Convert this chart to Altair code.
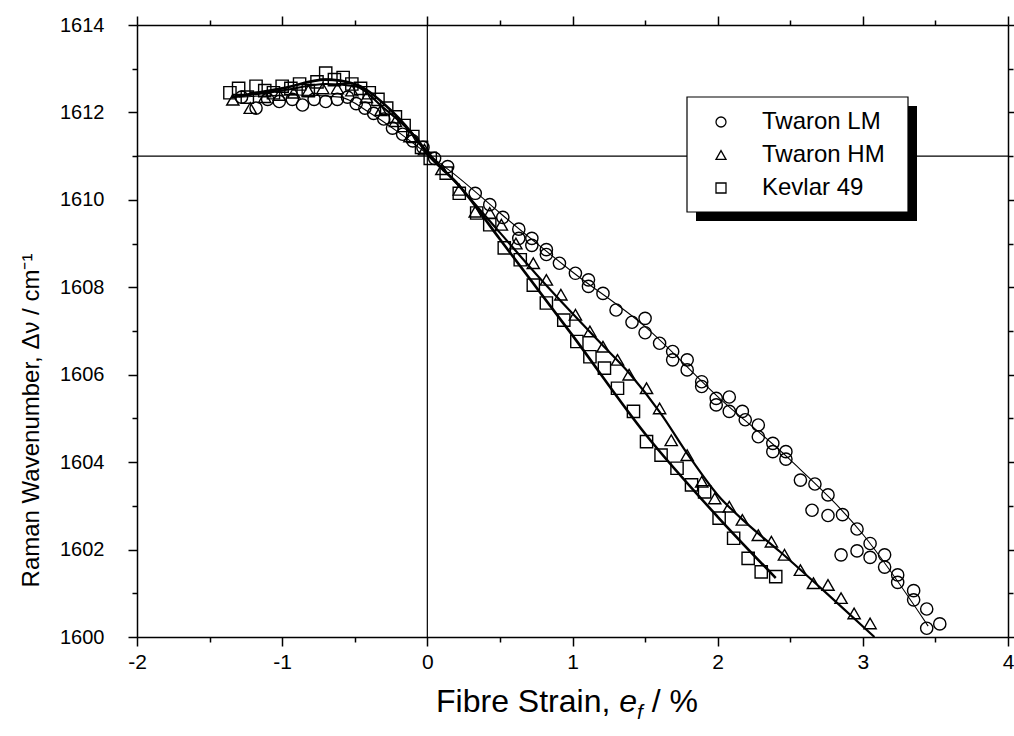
import altair as alt
import pandas as pd

# ---------------- data ----------------
lm_x = [-1.28, -1.18, -1.1, -1.02, -0.93, -0.86, -0.78, -0.7, -0.62, -0.55, -0.49, -0.43, -0.37, -0.3,
        -0.24, -0.17, -0.1, -0.03, 0.05, 0.14,
        0.33, 0.43, 0.52, 0.63, 0.63, 0.72, 0.72, 0.82, 0.82, 0.91, 1.02, 1.11, 1.11, 1.21, 1.30, 1.41,
        1.50, 1.50, 1.60, 1.69, 1.69, 1.79, 1.79, 1.89, 1.89, 1.99, 1.99, 2.08, 2.08, 2.17, 2.19, 2.28,
        2.28, 2.38, 2.38, 2.47, 2.47, 2.57, 2.67, 2.76, 2.65, 2.76, 2.86, 2.96, 3.05, 2.85, 2.96, 3.05,
        3.15, 3.15, 3.24, 3.24, 3.35, 3.35, 3.44, 3.44, 3.53]
lm_y = [1612.35, 1612.1, 1612.3, 1612.25, 1612.3, 1612.17, 1612.3, 1612.25, 1612.3, 1612.35, 1612.2,
        1612.1, 1611.98, 1611.85, 1611.64, 1611.5, 1611.35, 1611.2, 1610.95, 1610.76,
        1610.15, 1609.89, 1609.6, 1609.33, 1609.12, 1609.12, 1608.96, 1608.86, 1608.75, 1608.55, 1608.32,
        1608.17, 1608.02, 1607.86, 1607.48, 1607.2, 1607.29, 1606.96, 1606.72, 1606.53, 1606.34, 1606.34,
        1606.11, 1605.84, 1605.73, 1605.46, 1605.31, 1605.49, 1605.16, 1605.16, 1604.97, 1604.85, 1604.58,
        1604.43, 1604.24, 1604.24, 1604.07, 1603.59, 1603.5, 1603.25, 1602.9, 1602.78, 1602.8, 1602.47,
        1602.14, 1601.88, 1601.97, 1601.82, 1601.88, 1601.6, 1601.42, 1601.25, 1601.06, 1600.85, 1600.64,
        1600.2, 1600.3]

hm_x = [-1.34, -1.22, -1.12, -1.02, -0.92, -0.82, -0.72, -0.62, -0.52, -0.42, -0.32, -0.22, -0.12,
        -0.02, 0.1, 0.22, 0.33, 0.43, 0.51, 0.61, 0.73, 0.82, 0.92, 1.02, 1.12, 1.21, 1.31, 1.39, 1.51,
        1.60, 1.68, 1.79, 1.89, 1.98, 2.08, 2.17, 2.28, 2.37, 2.46, 2.57, 2.66, 2.76, 2.85, 2.94, 3.05]
hm_y = [1612.29, 1612.1, 1612.35, 1612.4, 1612.45, 1612.5, 1612.55, 1612.55, 1612.5, 1612.35, 1612.05,
        1611.8, 1611.45, 1611.15, 1610.7, 1610.23, 1609.73, 1609.7, 1609.43, 1609.0, 1608.55, 1608.17,
        1607.83, 1607.37, 1606.99, 1606.64, 1606.34, 1606.0, 1605.69, 1605.23, 1604.5, 1604.16, 1603.55,
        1603.17, 1602.98, 1602.68, 1602.33, 1602.18, 1601.88, 1601.53, 1601.23, 1601.19, 1600.89,
        1600.54, 1600.31]

kv_x = [-1.36, -1.3, -1.24, -1.18, -1.12, -1.06, -1.0, -0.94, -0.88, -0.82, -0.76, -0.7, -0.64, -0.58,
        -0.52, -0.46, -0.4, -0.34, -0.28, -0.22, -0.16, -0.1, -0.04, 0.02, 0.13, 0.22, 0.34, 0.43, 0.53,
        0.64, 0.73, 0.82, 0.94, 1.03, 1.12, 1.22, 1.31, 1.42, 1.51, 1.61, 1.72, 1.82, 1.91, 2.01, 2.11,
        2.21, 2.30, 2.40]
kv_y = [1612.45, 1612.55, 1612.35, 1612.6, 1612.5, 1612.45, 1612.6, 1612.55, 1612.65, 1612.5, 1612.7,
        1612.9, 1612.75, 1612.8, 1612.65, 1612.55, 1612.45, 1612.3, 1612.1, 1611.9, 1611.7, 1611.45,
        1611.2, 1610.95, 1610.61, 1610.15, 1609.7, 1609.43, 1608.9, 1608.63, 1608.05, 1607.64, 1607.25,
        1606.76, 1606.41, 1606.15, 1605.69, 1605.16, 1604.47, 1604.16, 1603.86, 1603.48, 1603.32,
        1602.72, 1602.26, 1601.8, 1601.49, 1601.38]

# fitted curves
lm_fit_x = [-1.3, -0.9, -0.6, -0.4, -0.2, 0.0, 0.2, 0.5, 1.0, 1.5, 2.0, 2.5, 3.0, 3.45]
lm_fit_y = [1612.35, 1612.4, 1612.35, 1612.0, 1611.55, 1611.05, 1610.55, 1609.7, 1608.35, 1607.1,
            1605.5, 1604.05, 1602.35, 1600.25]
hm_fit_x = [-1.35, -1.0, -0.7, -0.5, -0.3, -0.1, 0.0, 0.25, 0.5, 0.75, 1.0, 1.2, 1.4, 1.6, 1.8, 2.0,
            2.2, 2.43, 2.8, 3.08]
hm_fit_y = [1612.35, 1612.5, 1612.65, 1612.6, 1612.1, 1611.5, 1611.1, 1610.2, 1609.25, 1608.3,
            1607.4, 1606.7, 1606.0, 1605.15, 1604.15, 1603.25, 1602.6, 1601.95, 1600.85, 1600.0]
kv_fit_x = [-1.35, -1.0, -0.7, -0.5, -0.3, -0.1, 0.0, 0.2, 0.5, 1.0, 1.5, 2.0, 2.4]
kv_fit_y = [1612.35, 1612.55, 1612.75, 1612.65, 1612.2, 1611.5, 1611.05, 1610.4, 1609.1, 1606.9,
            1604.65, 1602.75, 1601.35]

series = ["Twaron LM", "Twaron HM", "Kevlar 49"]
shapes = ["circle", "triangle-up", "square"]
line_widths = [1.1, 2.2, 2.6]

x_ticks = [-2 + 0.5 * i for i in range(13)]
y_ticks = [1600 + i for i in range(15)]
x_title_parts = ["Fibre Strain, ", "e", "f", "/ %"]
y_title = "Raman Wavenumber, \u0394\u03bd / cm\u207b\u00b9"

# ---------------- tables ----------------
pts = pd.concat([
    pd.DataFrame({"series": series[0], "x": lm_x, "y": lm_y}),
    pd.DataFrame({"series": series[1], "x": hm_x, "y": hm_y}),
    pd.DataFrame({"series": series[2], "x": kv_x, "y": kv_y}),
], ignore_index=True)
fit_tables = [
    pd.DataFrame({"x": lm_fit_x, "y": lm_fit_y}),
    pd.DataFrame({"x": hm_fit_x, "y": hm_fit_y}),
    pd.DataFrame({"x": kv_fit_x, "y": kv_fit_y}),
]

W, H = 871, 612
FONT = "Liberation Sans"
xs = alt.Scale(domain=[-2, 4], nice=False, zero=False)
ys = alt.Scale(domain=[1600, 1614], nice=False, zero=False)

xmaj = {"condition": {"test": "datum.value % 1 === 0", "value": 9}, "value": 5}
ymaj = {"condition": {"test": "datum.value % 2 === 0", "value": 9}, "value": 5}

x_bottom = alt.Axis(values=x_ticks, orient="bottom", title=None, grid=False,
                    labelExpr="datum.value % 1 === 0 ? (datum.value < 0 ? '-' + abs(datum.value) : '' + datum.value) : ''",
                    tickSize=xmaj, tickWidth=1.5, tickColor="black", domainColor="black",
                    domainWidth=1.5, labelFontSize=21, labelFont=FONT, labelColor="black",
                    labelPadding=5, labelFlush=False)
y_left = alt.Axis(values=y_ticks, orient="left", title=y_title, grid=False,
                  labelExpr="datum.value % 2 === 0 ? datum.label : ''",
                  tickSize=ymaj, tickWidth=1.5, tickColor="black", domainColor="black",
                  domainWidth=1.5, labelFontSize=20, labelFont=FONT, labelColor="black",
                  labelPadding=24, titleFontSize=24, titleFont=FONT, titleFontWeight="normal",
                  titleColor="black", titleX=-94, titleY=395, titleAngle=270,
                  titleBaseline="bottom", titleAlign="center", format="d")
x_top = alt.Axis(values=x_ticks, orient="top", title=None, grid=False, labels=False,
                 tickSize=xmaj, tickWidth=1.5, tickColor="black", domainColor="black",
                 domainWidth=1.5)
y_right = alt.Axis(values=y_ticks, orient="right", title=None, grid=False, labels=False,
                   tickSize=ymaj, tickWidth=1.5, tickColor="black", domainColor="black",
                   domainWidth=1.5)

hline = alt.Chart(pd.DataFrame({"y": [1611]})).mark_rule(color="black", strokeWidth=1.2).encode(
    y=alt.Y("y:Q", scale=ys, axis=None))
vline = alt.Chart(pd.DataFrame({"x": [0]})).mark_rule(color="black", strokeWidth=1.2).encode(
    x=alt.X("x:Q", scale=xs, axis=None))

line_layers = [
    alt.Chart(tbl).mark_line(color="black", interpolate="monotone", strokeWidth=lw).encode(
        x=alt.X("x:Q", scale=xs, axis=None),
        y=alt.Y("y:Q", scale=ys, axis=None))
    for tbl, lw in zip(fit_tables, line_widths)
]

# legend box geometry (plot-area pixels): drop shadow + white framed box
LX, LY, LW, LH = 550, 72, 221, 115
one = pd.DataFrame({"a": [0]})
shadow = alt.Chart(one).mark_rect(color="black").encode(
    x=alt.value(LX + 9), x2=alt.value(LX + LW + 9),
    y=alt.value(LY + 9), y2=alt.value(LY + LH + 9))
box = alt.Chart(one).mark_rect(fill="white", stroke="black", strokeWidth=1.2).encode(
    x=alt.value(LX), x2=alt.value(LX + LW),
    y=alt.value(LY), y2=alt.value(LY + LH))

points = alt.Chart(pts).mark_point(filled=False, color="black", strokeWidth=1.4, size=150,
                                   opacity=1).encode(
    x=alt.X("x:Q", scale=xs, axis=x_bottom),
    y=alt.Y("y:Q", scale=ys, axis=y_left),
    shape=alt.Shape("series:N", scale=alt.Scale(domain=series, range=shapes),
                    legend=alt.Legend(title=None, orient="none", legendX=LX, legendY=LY,
                                      padding=13,
                                      labelFontSize=24, labelFont=FONT, labelColor="black",
                                      symbolSize=100, symbolStrokeWidth=1.3,
                                      symbolStrokeColor="black", symbolFillColor="white",
                                      symbolOffset=9, labelOffset=29, rowPadding=9,
                                      zindex=1)),
)

frame = alt.Chart(pts).mark_point(opacity=0).encode(
    x=alt.X("x:Q", scale=xs, axis=x_top),
    y=alt.Y("y:Q", scale=ys, axis=y_right),
)

# composite x-axis title with italic e and subscript f
FS = 32
FSS = 21
w0 = 5.724 * FS
w1 = 0.556 * FS
w2 = 0.278 * FSS + 0.278 * FS
total = w0 + w1 + w2 + 1.445 * FS
cx = 430
x0 = cx - total / 2
by = 687
t0 = alt.Chart(one).mark_text(text=x_title_parts[0], align="left", baseline="alphabetic",
                              fontSize=FS, font=FONT, color="black").encode(
    x=alt.value(x0), y=alt.value(by))
t1 = alt.Chart(one).mark_text(text=x_title_parts[1], align="left", baseline="alphabetic",
                              fontSize=FS, font=FONT, fontStyle="italic", color="black").encode(
    x=alt.value(x0 + w0), y=alt.value(by))
t2 = alt.Chart(one).mark_text(text=x_title_parts[2], align="left", baseline="alphabetic",
                              fontSize=FSS, font=FONT, fontStyle="italic", color="black").encode(
    x=alt.value(x0 + w0 + w1), y=alt.value(by + 7))
t3 = alt.Chart(one).mark_text(text=x_title_parts[3], align="left", baseline="alphabetic",
                              fontSize=FS, font=FONT, color="black").encode(
    x=alt.value(x0 + w0 + w1 + w2), y=alt.value(by))

chart = alt.layer(hline, vline, *line_layers, shadow, box, points, frame,
                  t0, t1, t2, t3).resolve_axis(
    x="independent", y="independent"
).properties(
    width=W, height=H,
    autosize=alt.AutoSizeParams(type="none"),
    padding={"left": 137, "top": 25, "right": 6, "bottom": 99},
    background="white",
).configure_view(stroke=None)

chart.save("out.html", embed_options={"renderer": "svg", "actions": False})
